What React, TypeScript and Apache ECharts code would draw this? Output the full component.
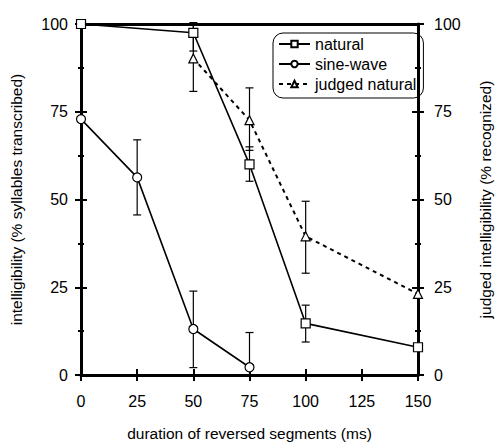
import React, { useEffect, useRef } from "react";
import * as echarts from "echarts";

const xTicks = [0, 25, 50, 75, 100, 125, 150];
const naturalX = [0, 50, 75, 100, 150];
const naturalY = [100, 97.5, 60, 14.7, 7.9];
const sineX = [0, 25, 50, 75];
const sineY = [72.9, 56.3, 13.1, 2.2];
const judgedX = [50, 75, 100, 150];
const judgedY = [90.2, 72.6, 39.5, 23.1];

const naturalErrX = [50, 75, 100];
const naturalErrLow = [92.3, 55.2, 9.4];
const naturalErrHigh = [100.4, 65.0, 19.9];
const sineErrX = [25, 50, 75];
const sineErrLow = [45.6, 2.1, 0];
const sineErrHigh = [67.0, 23.9, 12.1];
const judgedErrX = [50, 75, 100];
const judgedErrLow = [80.8, 64.0, 29.0];
const judgedErrHigh = [99.6, 81.8, 49.5];

const FONT = "Liberation Sans, Arial, Helvetica, sans-serif";

function zip(xs: number[], ys: number[]) {
  return xs.map((x, i) => [x, ys[i]]);
}
function zip3(xs: number[], a: number[], b: number[]) {
  return xs.map((x, i) => [x, a[i], b[i]]);
}

const errRender = (params: any, api: any) => {
  const x = api.value(0);
  const lo = api.coord([x, api.value(1)]);
  const hi = api.coord([x, api.value(2)]);
  const w = 4;
  const style = { stroke: "#000", lineWidth: 1.2 };
  return {
    type: "group",
    children: [
      { type: "line", shape: { x1: lo[0], y1: lo[1], x2: hi[0], y2: hi[1] }, style },
      { type: "line", shape: { x1: lo[0] - w, y1: lo[1], x2: lo[0] + w, y2: lo[1] }, style },
      { type: "line", shape: { x1: hi[0] - w, y1: hi[1], x2: hi[0] + w, y2: hi[1] }, style },
    ],
  };
};

export default function App() {
  const ref = useRef<HTMLDivElement>(null);
  useEffect(() => {
    if (!ref.current) return;
    const chart = echarts.init(ref.current, null, { renderer: "svg" });
    const axisLine = { show: true, onZero: false, lineStyle: { color: "#000", width: 3 } };
    const noLine = { show: false, onZero: false };
    const labelStyle = { color: "#000", fontSize: 16, fontFamily: FONT };
    const nameStyle = { color: "#000", fontSize: 15.5, fontFamily: FONT };
    const tickStyle = { color: "#000", width: 2 };
    const yBase = {
      type: "value",
      min: 0,
      max: 100,
      interval: 25,
      splitLine: { show: false },
      minorSplitLine: { show: false },
    };
    const xBase = {
      type: "value",
      min: 0,
      max: 150,
      interval: 25,
      splitLine: { show: false },
    };
    const option: any = {
      animation: false,
      backgroundColor: "#fff",
      grid: { left: 80, right: 71, top: 24, bottom: 65, containLabel: false },
      legend: {
        orient: "vertical",
        left: 273,
        top: 33,
        data: ["natural", "sine-wave", "judged natural"],
        itemWidth: 31,
        itemHeight: 8,
        itemGap: 4,
        padding: [3, 7, 6, 5],
        borderColor: "#000",
        borderWidth: 1,
        borderRadius: 10,
        textStyle: { color: "#000", fontSize: 16, lineHeight: 16, fontFamily: FONT },
        selectedMode: false,
      },
      xAxis: [
        {
          ...xBase,
          position: "bottom",
          axisLine,
          axisTick: { show: true, length: 6, lineStyle: tickStyle },
          axisLabel: { ...labelStyle, margin: 18 },
          name: "duration of reversed segments (ms)",
          nameLocation: "middle",
          nameGap: 50,
          nameTextStyle: nameStyle,
        },
        {
          ...xBase,
          position: "bottom",
          axisLine: noLine,
          axisTick: { show: true, inside: true, length: 6, lineStyle: tickStyle },
          axisLabel: { show: false },
        },
        {
          ...xBase,
          position: "top",
          axisLine,
          axisTick: { show: false },
          axisLabel: { show: false },
        },
      ],
      yAxis: [
        {
          ...yBase,
          position: "left",
          axisLine,
          axisTick: { show: true, length: 6, lineStyle: tickStyle },
          minorTick: { show: true, splitNumber: 2, length: 3, lineStyle: tickStyle },
          axisLabel: { ...labelStyle, margin: 13 },
          name: "intelligibility (% syllables transcribed)",
          nameLocation: "middle",
          nameGap: 57,
          nameTextStyle: nameStyle,
        },
        {
          ...yBase,
          position: "left",
          axisLine: noLine,
          axisTick: { show: true, inside: true, length: 6, lineStyle: tickStyle },
          minorTick: { show: true, splitNumber: 2, length: 3, lineStyle: tickStyle },
          axisLabel: { show: false },
        },
        {
          ...yBase,
          position: "right",
          axisLine,
          axisTick: { show: true, length: 6, lineStyle: tickStyle },
          minorTick: { show: true, splitNumber: 2, length: 3, lineStyle: tickStyle },
          axisLabel: { ...labelStyle, margin: 16 },
          name: "judged intelligibility (% recognized)",
          nameLocation: "middle",
          nameGap: 59,
          nameRotate: 90,
          nameTextStyle: nameStyle,
        },
        {
          ...yBase,
          position: "right",
          axisLine: noLine,
          axisTick: { show: true, inside: true, length: 6, lineStyle: tickStyle },
          minorTick: { show: true, splitNumber: 2, length: 3, lineStyle: tickStyle },
          axisLabel: { show: false },
        },
      ],
      series: [
        {
          name: "natural-err",
          type: "custom",
          renderItem: errRender,
          data: zip3(naturalErrX, naturalErrLow, naturalErrHigh),
          z: 3,
          silent: true,
        },
        {
          name: "sine-err",
          type: "custom",
          renderItem: errRender,
          data: zip3(sineErrX, sineErrLow, sineErrHigh),
          z: 3,
          silent: true,
        },
        {
          name: "judged-err",
          type: "custom",
          renderItem: errRender,
          data: zip3(judgedErrX, judgedErrLow, judgedErrHigh),
          z: 3,
          silent: true,
        },
        {
          name: "natural",
          type: "line",
          data: zip(naturalX, naturalY),
          symbol: "rect",
          symbolSize: 9,
          showAllSymbol: true,
          lineStyle: { color: "#000", width: 1.6 },
          itemStyle: { color: "#fff", borderColor: "#000", borderWidth: 1.2 },
          z: 4,
        },
        {
          name: "sine-wave",
          type: "line",
          data: zip(sineX, sineY),
          symbol: "circle",
          symbolSize: 9,
          showAllSymbol: true,
          lineStyle: { color: "#000", width: 1.6 },
          itemStyle: { color: "#fff", borderColor: "#000", borderWidth: 1.2 },
          z: 4,
        },
        {
          name: "judged natural",
          type: "line",
          data: zip(judgedX, judgedY),
          symbol: "triangle",
          symbolSize: 9,
          showAllSymbol: true,
          lineStyle: { color: "#000", width: 2, type: [4, 4] },
          itemStyle: { color: "#fff", borderColor: "#000", borderWidth: 1.2 },
          z: 4,
        },
      ],
    };
    chart.setOption(option);
    return () => chart.dispose();
  }, []);
  return <div ref={ref} style={{ width: 501, height: 446, position: "absolute", left: 0, top: 0 }} />;
}
